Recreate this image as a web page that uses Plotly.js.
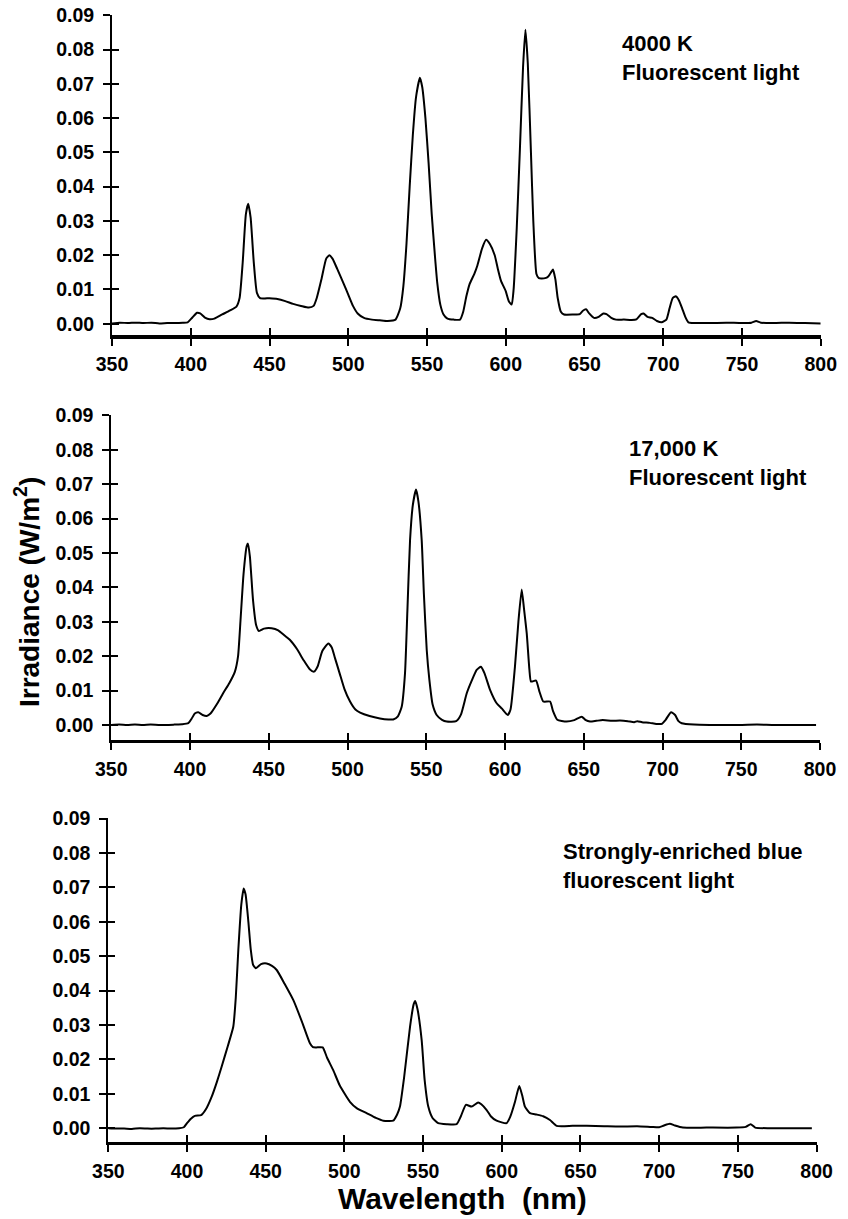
<!DOCTYPE html>
<html>
<head>
<meta charset="utf-8">
<script src="https://cdn.plot.ly/plotly-3.0.1.min.js"></script>
<style>html,body{margin:0;padding:0;background:#fff;}#chart{width:848px;height:1219px;}</style>
</head>
<body>
<div id="chart"></div>
<script>
// ---- Data ----
var xTickVals = [350, 400, 450, 500, 550, 600, 650, 700, 750, 800];
var yTickVals = [0.00, 0.01, 0.02, 0.03, 0.04, 0.05, 0.06, 0.07, 0.08, 0.09];
var panelLabels = ["4000 K<br>Fluorescent light", "17,000 K<br>Fluorescent light", "Strongly-enriched blue<br>fluorescent light"];
var yTitle = "Irradiance (W/m<sup>2</sup>)";
var xTitle = "Wavelength  (nm)";

// Panel 1: 4000 K fluorescent light
var wl1 = [350,355,360,365,370,375,380,385,390,395,398,401,404,406,409,412,415,420,425,429,431,433,435,436.5,438,440,442,444,450,455,460,465,470,475,478,480,483,486,488,490,493,497,500,503,506,510,515,520,525,530,533,535,537,539,541,543,545.5,547,549,551,553,555,556.5,558.5,560.5,563,567,571,573,575,577,580,582,585,587.5,590,593,595,597,600,602,603.8,605,607,609,611,612.5,614,616,617.5,619.5,621,625,627,629,630,631.5,633,635,637,643,647,649,651,653,656,659,662,664,667,670,675,680,683,686,687.5,690,693,696,699,702,704,706,708,710,712,714,716,720,730,740,750,756,759,762,770,780,790,800];
var irr1 = [0.0001,0.0003,0.0002,0.0003,0.0002,0.0003,0.0001,0.0002,0.0002,0.0003,0.0004,0.0018,0.0032,0.0030,0.0018,0.0013,0.0015,0.0027,0.0039,0.0050,0.0075,0.0180,0.0320,0.0350,0.0310,0.0180,0.0090,0.0075,0.0074,0.0072,0.0066,0.0058,0.0052,0.0047,0.0052,0.0075,0.0130,0.0190,0.0200,0.0190,0.0160,0.0118,0.0085,0.0052,0.0030,0.0017,0.0012,0.0010,0.0008,0.0012,0.0045,0.0110,0.0235,0.0400,0.0550,0.0660,0.0718,0.0690,0.0600,0.0470,0.0320,0.0200,0.0120,0.0055,0.0027,0.0015,0.0012,0.0012,0.0035,0.0080,0.0115,0.0145,0.0170,0.0220,0.0245,0.0232,0.0200,0.0160,0.0125,0.0095,0.0065,0.0056,0.0100,0.0280,0.0510,0.0750,0.0858,0.0760,0.0500,0.0300,0.0145,0.0133,0.0133,0.0138,0.0152,0.0158,0.0130,0.0075,0.0035,0.0027,0.0027,0.0028,0.0038,0.0042,0.0030,0.0017,0.0020,0.0030,0.0028,0.0017,0.0012,0.0012,0.0011,0.0013,0.0028,0.0030,0.0020,0.0017,0.0008,0.0004,0.0012,0.0045,0.0075,0.0080,0.0068,0.0045,0.0020,0.0004,0.0002,0.0002,0.0003,0.0002,0.0003,0.0008,0.0003,0.0002,0.0003,0.0002,0.0001];

// Panel 2: 17,000 K fluorescent light
var wl2 = [350,355,360,365,370,375,380,385,390,395,398.9,401,403,405.2,408,410.6,413,417,421,425,428.5,430.5,432,434,436,436.8,438,440,442,443.8,447,451.8,456,460,463.5,468,472,476,478.7,481,484,487.8,490,492,495,498,501.6,505,508,514,520.6,526,529,532,534.4,536.5,538,539.7,541.5,543.5,545,547.1,548.5,550.3,552,554,556.6,560,563,569,572,575.7,579,582,584.7,587,590.5,594.7,597.9,601.7,603.5,606.3,608.5,610.6,612,613.8,615.5,616.5,619.7,622,624.3,628.6,630.5,633.2,639,644,648.7,651,654,658,662,668,673,678,682,684,687,692,696,699.5,702,705.4,708,710,712.2,720,730,740,750,760,770,780,790,797.5];
var irr2 = [0.0000,0.0001,0.0000,0.0001,0.0000,0.0001,0.0000,0.0000,0.0001,0.0002,0.0005,0.0018,0.0033,0.0037,0.0029,0.0026,0.0033,0.0060,0.0092,0.0122,0.0155,0.0200,0.0300,0.0440,0.0520,0.0527,0.0490,0.0363,0.0290,0.0273,0.0280,0.0281,0.0275,0.0260,0.0247,0.0220,0.0189,0.0162,0.0155,0.0170,0.0215,0.0237,0.0225,0.0195,0.0150,0.0105,0.0068,0.0045,0.0036,0.0026,0.0019,0.0016,0.0016,0.0025,0.0053,0.0150,0.0330,0.0537,0.0640,0.0684,0.0650,0.0537,0.0380,0.0218,0.0130,0.0060,0.0029,0.0015,0.0010,0.0011,0.0030,0.0092,0.0130,0.0160,0.0169,0.0150,0.0102,0.0063,0.0048,0.0029,0.0045,0.0169,0.0300,0.0394,0.0340,0.0266,0.0160,0.0126,0.0129,0.0095,0.0068,0.0068,0.0040,0.0015,0.0010,0.0014,0.0024,0.0015,0.0010,0.0012,0.0014,0.0012,0.0013,0.0011,0.0008,0.0011,0.0008,0.0006,0.0003,0.0003,0.0015,0.0037,0.0029,0.0012,0.0005,0.0001,0.0000,0.0000,0.0000,0.0001,0.0000,0.0000,0.0000,0.0000];

// Panel 3: strongly-enriched blue fluorescent light
var wl3 = [350,355,360,365,370,375,380,385,390,395,398,400,402.5,405,409,412,415.7,419,422,426,429.4,431,432.6,434.5,436,437.2,439,440.5,442,443.8,447,450.6,454,457,462,467.5,473,478.1,480,482,486.2,489,492.9,497,503.5,508,514.1,520,524.7,531,533.5,535.3,538,541.7,544,545,546.5,549.1,551,553.3,556,559.6,565,571.3,574,577.2,580.8,585,587,590.4,593,596.7,603.1,605.5,608.4,611.1,613,614.7,617.9,622,626.3,630.6,634.8,645,654,665,675,686,695,700,703,706.8,710,715,730,749,755,758.1,761,770,780,790,797];
var irr3 = [0.0000,-0.0001,-0.0001,-0.0002,0.0000,-0.0001,-0.0001,0.0000,-0.0001,0.0000,0.0003,0.0015,0.0028,0.0036,0.0038,0.0055,0.0092,0.0135,0.0179,0.0240,0.0295,0.0380,0.0518,0.0650,0.0697,0.0680,0.0600,0.0520,0.0475,0.0465,0.0477,0.0479,0.0472,0.0460,0.0420,0.0373,0.0310,0.0247,0.0236,0.0235,0.0235,0.0205,0.0169,0.0125,0.0077,0.0058,0.0044,0.0030,0.0022,0.0022,0.0040,0.0063,0.0150,0.0295,0.0360,0.0370,0.0345,0.0256,0.0140,0.0063,0.0030,0.0015,0.0012,0.0012,0.0035,0.0068,0.0063,0.0075,0.0070,0.0053,0.0035,0.0022,0.0015,0.0035,0.0077,0.0123,0.0095,0.0063,0.0044,0.0040,0.0035,0.0024,0.0007,0.0007,0.0007,0.0006,0.0005,0.0006,0.0004,0.0003,0.0008,0.0013,0.0008,0.0002,0.0002,0.0002,0.0004,0.0012,0.0002,0.0000,0.0000,0.0000,0.0000];

// ---- Build figure ----
var FONT = "Liberation Sans, Arial, Helvetica, sans-serif";
var wls = [wl1, wl2, wl3];
var irrs = [irr1, irr2, irr3];
var xDomains = [[0.0165, 0.9900], [0.0155, 0.9890], [0.0114, 0.9843]];
var yDomains = [[0.7195, 0.9957], [0.3702, 0.6506], [0.0236, 0.3026]];
var yBottoms = [-0.00332, -0.00436, -0.00389];
var labelPos = [[672.6, 0.0776], [677.4, 0.0762], [637.6, 0.0762]];

var traces = [];
var layout = {
  width: 848, height: 1219,
  margin: {l: 100, r: 20, t: 10, b: 50},
  paper_bgcolor: "#ffffff", plot_bgcolor: "#ffffff",
  showlegend: false,
  font: {family: FONT, color: "#000000", size: 19},
  annotations: []
};

for (var i = 0; i < 3; i++) {
  var n = i + 1;
  var xs = n === 1 ? "" : String(n);
  var ovx = String(n + 3), ovy = String(n + 3);
  traces.push({
    x: wls[i], y: irrs[i], type: "scatter", mode: "lines",
    line: {color: "#000000", width: 2, shape: "spline", smoothing: 0.5},
    xaxis: "x" + xs, yaxis: "y" + xs, hoverinfo: "x+y"
  });
  // empty traces to activate overlay axes (crossing tick halves)
  traces.push({x: [], y: [], type: "scatter", mode: "lines", xaxis: "x" + ovx, yaxis: "y" + xs, showlegend: false});
  traces.push({x: [], y: [], type: "scatter", mode: "lines", xaxis: "x" + xs, yaxis: "y" + ovy, showlegend: false});

  var yr = [yBottoms[i], 0.0901];
  layout["xaxis" + xs] = {
    domain: xDomains[i], range: [350, 800], anchor: "y" + xs,
    tickvals: xTickVals, ticktext: xTickVals.map(String),
    ticks: "outside", ticklen: 7, tickwidth: 2, tickcolor: "#000",
    showline: true, linecolor: "#000", linewidth: 3.5,
    showgrid: false, zeroline: false, ticklabelstandoff: 2,
    tickfont: {family: FONT, size: 19.5, color: "#000", weight: "bold"}
  };
  layout["yaxis" + xs] = {
    domain: yDomains[i], range: yr, anchor: "x" + xs,
    tickvals: yTickVals, ticktext: yTickVals.map(function(v){return v.toFixed(2);}),
    ticks: "outside", ticklen: 7, tickwidth: 2, tickcolor: "#000",
    showline: true, linecolor: "#000", linewidth: 2,
    showgrid: false, zeroline: false, ticklabelstandoff: 5,
    tickfont: {family: FONT, size: 19.5, color: "#000", weight: "bold"}
  };
  layout["xaxis" + ovx] = {
    overlaying: "x" + xs, range: [350, 800], anchor: "y" + xs,
    tickvals: xTickVals, ticks: "inside", ticklen: 7, tickwidth: 2, tickcolor: "#000",
    showticklabels: false, showline: false, showgrid: false, zeroline: false
  };
  layout["yaxis" + ovy] = {
    overlaying: "y" + xs, range: yr, anchor: "x" + xs, side: "left",
    tickvals: yTickVals, ticks: "inside", ticklen: 7, tickwidth: 2, tickcolor: "#000",
    showticklabels: false, showline: false, showgrid: false, zeroline: false
  };
  layout.annotations.push({
    text: panelLabels[i], xref: "x" + xs, yref: "y" + xs,
    x: labelPos[i][0], y: labelPos[i][1], xanchor: "left", yanchor: "middle",
    align: "left", showarrow: false,
    font: {family: FONT, size: 22, color: "#000", weight: "bold"}
  });
}

// Shared y-axis title (placed as rotated text beside the middle panel)
layout.annotations.push({
  text: yTitle, xref: "paper", yref: "paper", x: -0.1003, y: 0.4978,
  xanchor: "center", yanchor: "middle", textangle: -90, showarrow: false,
  font: {family: FONT, size: 28, color: "#000", weight: "bold"}
});
layout.xaxis3.title = {text: xTitle, standoff: 4,
  font: {family: FONT, size: 30, color: "#000", weight: "bold"}};

Plotly.newPlot("chart", traces, layout, {displayModeBar: false, staticPlot: true});
</script>
</body>
</html>
